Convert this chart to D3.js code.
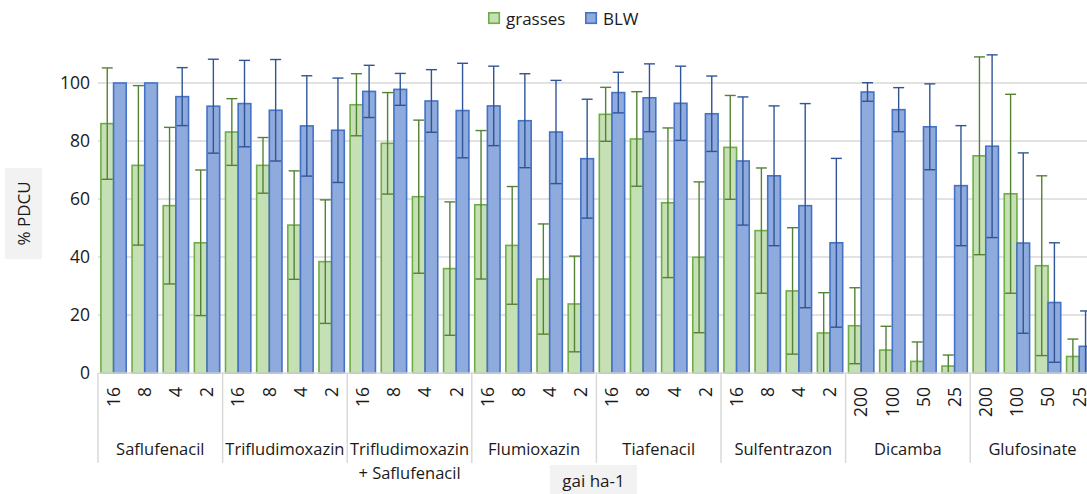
<!DOCTYPE html>
<html>
<head>
<meta charset="utf-8">
<script src="https://cdn.jsdelivr.net/npm/d3@7"></script>
<style>
  html, body { margin: 0; padding: 0; background: #fff; }
  svg { display: block; font-family: "Open Sans", "Noto Sans", sans-serif; }
</style>
</head>
<body>
<svg id="chart" width="1087" height="494"></svg>
<script>
// Herbicide groups and the doses tested within each (g ai ha-1)
const groups = ["Saflufenacil", "Trifludimoxazin", "Trifludimoxazin|+ Saflufenacil", "Flumioxazin",
                "Tiafenacil", "Sulfentrazon", "Dicamba", "Glufosinate"];
const doses = [
  "16", "8", "4", "2",  "16", "8", "4", "2",  "16", "8", "4", "2",  "16", "8", "4", "2",
  "16", "8", "4", "2",  "16", "8", "4", "2",  "200", "100", "50", "25",  "200", "100", "50", "25"
];

// % PDCU means and error half-widths, one entry per group/dose
const grassesMean = [86, 71.6, 57.7, 44.9,  83.1, 71.6, 51, 38.4,  92.5, 79.2, 60.8, 36,  58, 44, 32.4, 23.8,
                     89.2, 80.7, 58.7, 39.9,  77.8, 49.1, 28.3, 13.8,  16.3, 7.9, 4, 2.4,  74.9, 61.8, 37, 5.7];
const grassesErr  = [19.2, 27.5, 27, 25.1,  11.5, 9.6, 18.7, 21.3,  10.7, 17.5, 26.4, 23,  25.6, 20.3, 19, 16.5,
                     9.3, 16.3, 25.8, 26,  17.9, 21.6, 21.8, 13.9,  13.1, 8.2, 6.7, 3.8,  34.1, 34.3, 31, 6];
const blwMean     = [100, 100, 95.3, 92,  92.9, 90.6, 85.2, 83.7,  97.1, 97.8, 93.8, 90.5,  92.1, 87, 83.1, 73.9,
                     96.7, 94.9, 93, 89.4,  73.1, 68, 57.7, 44.9,  96.9, 90.8, 84.9, 64.6,  78.2, 44.8, 24.3, 9.2];
const blwErr      = [0, 0, 10, 16.2,  14.9, 17.5, 17.3, 18,  9, 5.5, 10.8, 16.3,  13.7, 16.2, 17.8, 20.5,
                     7, 11.7, 12.8, 13,  22.1, 24.1, 35.2, 29.1,  3.2, 7.6, 14.8, 20.7,  31.5, 31.1, 20.6, 12.2];

const yTicks = [0, 20, 40, 60, 80, 100];
const seriesNames = ["grasses", "BLW"];

const series = [
  { name: "grasses", mean: grassesMean, err: grassesErr, fill: "#C5E0B4", stroke: "#70AD47", errColor: "#548235" },
  { name: "BLW",     mean: blwMean,     err: blwErr,     fill: "#8FAADC", stroke: "#4472C4", errColor: "#2F5597" }
];

const svg = d3.select("#chart");
const W = 1087;
const perGroup = 4;
const plotLeft = 98, groupW = 124.6;
const plotRight = plotLeft + groupW * groups.length;
const baseY = 373;

const idx = d3.range(doses.length);
const x = d3.scaleBand().domain(idx).range([plotLeft, plotRight]).paddingInner(0).paddingOuter(0);
const xs = d3.scaleBand().domain(seriesNames).range([0, x.bandwidth()]).paddingInner(0).paddingOuter(0.23);
const y = d3.scaleLinear().domain([0, 120]).range([baseY, 25]);

const gridColor = "#D9D9D9";
const textColor = "#1a1a1a";

// horizontal gridlines
svg.append("g").selectAll("line").data(yTicks.filter(t => t > 0)).join("line")
  .attr("x1", plotLeft).attr("x2", W)
  .attr("y1", d => y(d)).attr("y2", d => y(d))
  .attr("stroke", gridColor).attr("stroke-width", 1.3);

// y axis labels
const yAxis = svg.append("g").attr("transform", `translate(${plotLeft - 8},0)`)
  .call(d3.axisLeft(y).tickValues(yTicks).tickSize(0).tickPadding(0));
yAxis.select(".domain").remove();
yAxis.selectAll("text").attr("font-size", 17.5).attr("fill", textColor)
  .attr("font-family", "'Open Sans', sans-serif");

// bars
series.forEach(s => {
  svg.append("g").selectAll("rect").data(idx).join("rect")
    .attr("x", i => x(i) + xs(s.name))
    .attr("width", xs.bandwidth())
    .attr("y", i => y(s.mean[i]))
    .attr("height", i => y(0) - y(s.mean[i]))
    .attr("fill", s.fill)
    .attr("stroke", s.stroke)
    .attr("stroke-width", 1.6);
});

// error bars (lower end clipped at the axis minimum)
const capW = 11;
series.forEach(s => {
  const g = svg.append("g").attr("stroke", s.errColor).attr("stroke-width", 1.4).attr("fill", "none");
  idx.filter(i => s.err[i] > 0).forEach(i => {
    const cx = x(i) + xs(s.name) + xs.bandwidth() / 2;
    const lo = Math.max(0, s.mean[i] - s.err[i]);
    const hi = s.mean[i] + s.err[i];
    g.append("line").attr("x1", cx).attr("x2", cx).attr("y1", y(lo)).attr("y2", y(hi));
    g.append("line").attr("x1", cx - capW / 2).attr("x2", cx + capW / 2).attr("y1", y(hi)).attr("y2", y(hi));
    if (s.mean[i] - s.err[i] > 0) {
      g.append("line").attr("x1", cx - capW / 2).attr("x2", cx + capW / 2).attr("y1", y(lo)).attr("y2", y(lo));
    }
  });
});

// category axis baseline
svg.append("line").attr("x1", plotLeft).attr("x2", W).attr("y1", baseY).attr("y2", baseY)
  .attr("stroke", gridColor).attr("stroke-width", 1.5);

// dose tick labels (rotated)
const xAxis = svg.append("g").attr("transform", `translate(0,${baseY})`)
  .call(d3.axisBottom(x).tickSize(0).tickFormat(i => doses[i]));
xAxis.select(".domain").remove();
xAxis.selectAll("text")
  .attr("transform", "rotate(-90)")
  .attr("x", -14).attr("y", 0).attr("dy", "0.36em")
  .attr("text-anchor", "end")
  .attr("font-size", 17.5).attr("fill", textColor)
  .attr("font-family", "'Open Sans', sans-serif");
xAxis.selectAll(".tick").attr("transform", function() {
  const t = d3.select(this).attr("transform");
  return t;
});

// group separators
const sepX = d3.range(groups.length + 1).map(k => plotLeft + k * groupW);
svg.append("g").selectAll("line").data(sepX).join("line")
  .attr("x1", d => d).attr("x2", d => d).attr("y1", baseY).attr("y2", 463)
  .attr("stroke", gridColor).attr("stroke-width", 1.5);

// group labels
const gl = svg.append("g").attr("font-size", 16.5).attr("fill", textColor).attr("text-anchor", "middle");
groups.forEach((name, k) => {
  const cx = plotLeft + (k + 0.5) * groupW;
  name.split("|").forEach((line, j) => {
    gl.append("text").attr("x", cx).attr("y", 455 + j * 24).text(line);
  });
});

// y axis title
svg.append("rect").attr("x", 5).attr("y", 168).attr("width", 37).attr("height", 91).attr("fill", "#F2F2F2");
svg.append("text").attr("transform", "translate(30,213.5) rotate(-90)")
  .attr("text-anchor", "middle").attr("font-size", 17).attr("fill", textColor).text("% PDCU");

// x axis title
svg.append("rect").attr("x", 550).attr("y", 465).attr("width", 87).attr("height", 35).attr("fill", "#F2F2F2");
svg.append("text").attr("x", 593.5).attr("y", 487).attr("text-anchor", "middle")
  .attr("font-size", 17).attr("fill", textColor).text("gai ha-1");

// legend
const legend = svg.append("g");
const legendX = [488, 585];
series.forEach((s, k) => {
  legend.append("rect").attr("x", legendX[k] + 0.8).attr("y", 12.8).attr("width", 10.5).attr("height", 10.5)
    .attr("fill", s.fill).attr("stroke", s.stroke).attr("stroke-width", 1.6);
  legend.append("text").attr("x", legendX[k] + 18).attr("y", 24.5)
    .attr("font-size", 17).attr("fill", textColor).text(s.name);
});
</script>
</body>
</html>
